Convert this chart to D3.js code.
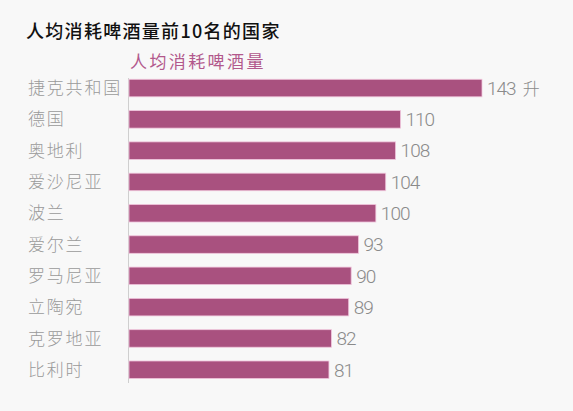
<!DOCTYPE html>
<html>
<head>
<meta charset="utf-8">
<script src="https://cdn.jsdelivr.net/npm/d3@7"></script>
<style>
  html, body { margin: 0; padding: 0; background: #f8f8f8; }
  svg { display: block; }
</style>
</head>
<body>
<div id="js-chart"></div>
<script>
// data
const countries = ['捷克共和国', '德国', '奥地利', '爱沙尼亚', '波兰', '爱尔兰', '罗马尼亚', '立陶宛', '克罗地亚', '比利时'];
const litres = [143, 110, 108, 104, 100, 93, 90, 89, 82, 81];
const units = ['升', '', '', '', '', '', '', '', '', ''];
const title = '人均消耗啤酒量前10名的国家';
const seriesName = '人均消耗啤酒量';

const width = 573, height = 411;
const rows = countries.map((c, i) => ({ name: c, value: litres[i], unit: units[i] }));

const svg = d3.select('#js-chart')
  .append('svg')
  .attr('width', width)
  .attr('height', height);

svg.append('rect')
  .attr('width', width)
  .attr('height', height)
  .attr('fill', '#f8f8f8');

// scales
const x = d3.scaleLinear()
  .domain([0, 143])
  .range([129, 482]);

const y = d3.scaleBand()
  .domain(countries)
  .range([72.4, 385.4])
  .paddingInner(0.44)
  .paddingOuter(0.22);

// titles
svg.append('text')
  .attr('x', 26)
  .attr('y', 38)
  .attr('font-family', '"Noto Sans CJK SC", sans-serif')
  .attr('font-size', 18)
  .attr('font-weight', 500)
  .attr('letter-spacing', 1.3)
  .attr('fill', '#111')
  .text(title);

svg.append('text')
  .attr('x', 130)
  .attr('y', 68)
  .attr('font-family', '"Noto Sans CJK SC", sans-serif')
  .attr('font-size', 17)
  .attr('letter-spacing', 2.4)
  .attr('fill', '#b2588c')
  .text(seriesName);

// axis line
svg.append('line')
  .attr('x1', 128.5).attr('x2', 128.5)
  .attr('y1', 78).attr('y2', 383)
  .attr('stroke', '#cfcfcf')
  .attr('stroke-width', 1);

// bars
svg.append('g')
  .selectAll('rect')
  .data(rows)
  .enter().append('rect')
  .attr('x', x(0))
  .attr('y', d => y(d.name))
  .attr('width', d => x(d.value) - x(0))
  .attr('height', y.bandwidth())
  .attr('fill', '#a9517f')
  .attr('stroke', '#f0c6dc')
  .attr('stroke-width', 0.8);

// category labels
svg.append('g')
  .selectAll('text')
  .data(rows)
  .enter().append('text')
  .attr('x', 28)
  .attr('y', d => y(d.name) + y.bandwidth() / 2)
  .attr('dy', '0.36em')
  .attr('font-family', '"Noto Sans CJK SC", sans-serif')
  .attr('font-size', 17)
  .attr('font-weight', 300)
  .attr('letter-spacing', 1.8)
  .attr('fill', '#9a9a9a')
  .text(d => d.name);

// value labels
const vals = svg.append('g')
  .selectAll('text')
  .data(rows)
  .enter().append('text')
  .attr('x', d => x(d.value) + 5)
  .attr('y', d => y(d.name) + y.bandwidth() / 2)
  .attr('dy', '0.36em')
  .attr('font-family', 'Roboto, "Noto Sans CJK SC", sans-serif')
  .attr('font-size', 19)
  .attr('font-weight', 300)
  .attr('fill', '#8a8a8a');

vals.append('tspan')
  .attr('letter-spacing', -1)
  .text(d => d.value);

vals.filter(d => d.unit)
  .append('tspan')
  .attr('dx', 7)
  .attr('font-size', 17)
  .text(d => d.unit);
</script>
</body>
</html>
